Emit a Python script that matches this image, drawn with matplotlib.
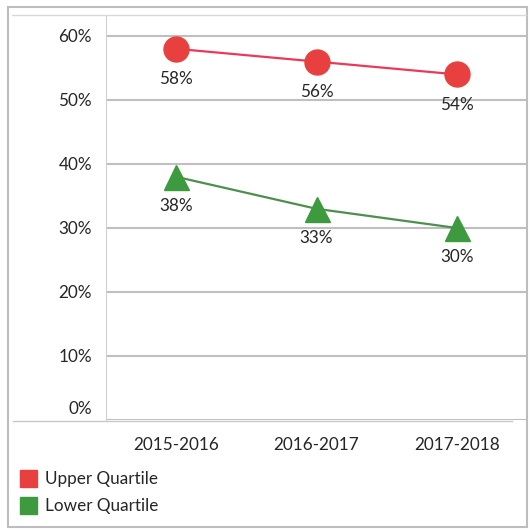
import matplotlib
matplotlib.use("Agg")
import matplotlib.pyplot as plt
import matplotlib.transforms as mtransforms
from matplotlib.patches import Rectangle

categories = ["2015-2016", "2016-2017", "2017-2018"]
upper = [58, 56, 54]
lower = [38, 33, 30]
yticks = [0, 10, 20, 30, 40, 50, 60]
series_names = ["Upper Quartile", "Lower Quartile"]

plt.rcParams['font.family'] = ['Lato', 'DejaVu Sans']
FS = 12.3

W, H = 530, 531
fig = plt.figure(figsize=(W / 100, H / 100), dpi=100)

def fx(px):
    return px / W

def fy(py):
    return 1 - py / H

# outer frame
fig.patches.append(Rectangle((fx(8), fy(527)), fx(519), (527 - 7) / H,
                             transform=fig.transFigure, fill=False,
                             edgecolor="#BDBDBD", linewidth=1.5))
fig.lines.append(plt.Line2D([fx(12), fx(526)], [fy(15), fy(15)],
                            transform=fig.transFigure, color="#D9D9D9", lw=1))

left, right, top, bottom = 106, 527, 15, 420
# y-axis range so that 60% sits at y=36 and 0% at y=420 (64 px per 10%)
ymax = (bottom - top) / 6.4
ax = fig.add_axes([fx(left), fy(bottom), fx(right - left), (bottom - top) / H])
ax.set_xlim(-0.5, len(categories) - 0.5)
ax.set_ylim(0, ymax)

for s in ["top", "right", "bottom"]:
    ax.spines[s].set_visible(False)
ax.spines["left"].set_color("#D0D0D0")
fig.lines.append(plt.Line2D([fx(13), fx(512)], [fy(421), fy(421)],
                            transform=fig.transFigure, color="#C8C8C8", lw=1))

ax.set_yticks(yticks)
ax.set_yticklabels([f"{v}%" for v in yticks], fontsize=FS, color="#262626")
ax.yaxis.grid(True, color="#BFBFBF", linewidth=1.5)
ax.set_axisbelow(True)
ax.tick_params(axis="y", length=0, pad=10)
ax.tick_params(axis="x", length=0, pad=12)
ax.set_xticks(range(len(categories)))
ax.set_xticklabels(categories, fontsize=FS, color="#262626")

# shift 0% label up like in the reference
lbl0 = ax.get_yticklabels()[0]
lbl0.set_transform(lbl0.get_transform() +
                   mtransforms.ScaledTranslation(0, 13 / 100, fig.dpi_scale_trans))

x = list(range(len(categories)))
ax.plot(x, upper, color="#E83A5A", lw=1.6, marker="o", markersize=18,
        markerfacecolor="#E8403F", markeredgecolor="#E8403F", clip_on=False, zorder=3)
ax.plot(x, lower, color="#4E8F4E", lw=1.6, marker="^", markersize=18,
        markerfacecolor="#3E9A3E", markeredgecolor="#3E9A3E", clip_on=False, zorder=3)

for xi, v in zip(x, upper):
    ax.annotate(f"{v}%", (xi, v), xytext=(0, -22), textcoords="offset points",
                ha="center", va="center", fontsize=FS, color="#262626")
for xi, v in zip(x, lower):
    ax.annotate(f"{v}%", (xi, v), xytext=(0, -21), textcoords="offset points",
                ha="center", va="center", fontsize=FS, color="#262626")

# legend
leg_colors = ["#E8403F", "#3E9A3E"]
leg_y = [479, 506]
for name, c, yy in zip(series_names, leg_colors, leg_y):
    fig.patches.append(Rectangle((fx(20), fy(yy + 8)), fx(17), 17 / H,
                                 transform=fig.transFigure, facecolor=c,
                                 edgecolor=c))
    fig.text(fx(45), fy(yy), name, fontsize=FS, color="#262626",
             ha="left", va="center")

fig.savefig("out.png", dpi=100)
